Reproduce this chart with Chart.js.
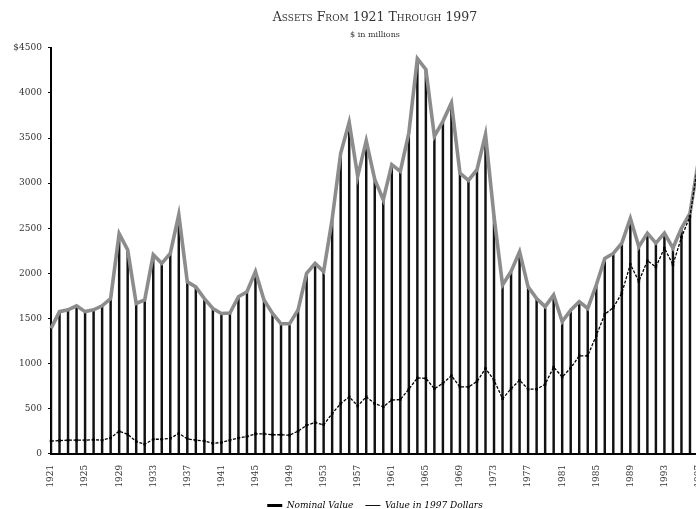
<!DOCTYPE html>
<html lang="en">
<head>
    <meta charset="UTF-8">
    <title>Assets From 1921 Through 1997</title>
    <style>
        body {
            margin: 0;
            background: white;
        }
        .frame {
            width: 696px;
            height: 509px;
            overflow: hidden;
        }
    </style>
</head>
<body>
    <div class="frame">
        <canvas id="assetsChart" width="750" height="520"></canvas>
    </div>

    <script src="https://cdn.jsdelivr.net/npm/chart.js"></script>
    <script>
        const years = [
            1921, 1922, 1923, 1924, 1925, 1926, 1927, 1928, 1929, 1930,
            1931, 1932, 1933, 1934, 1935, 1936, 1937, 1938, 1939, 1940,
            1941, 1942, 1943, 1944, 1945, 1946, 1947, 1948, 1949, 1950,
            1951, 1952, 1953, 1954, 1955, 1956, 1957, 1958, 1959, 1960,
            1961, 1962, 1963, 1964, 1965, 1966, 1967, 1968, 1969, 1970,
            1971, 1972, 1973, 1974, 1975, 1976, 1977, 1978, 1979, 1980,
            1981, 1982, 1983, 1984, 1985, 1986, 1987, 1988, 1989, 1990,
            1991, 1992, 1993, 1994, 1995, 1996, 1997
        ];

        // value in 1997 dollars ($ millions)
        const realValues = [
            1390, 1575, 1595, 1640, 1575, 1595, 1640, 1720, 2440, 2260,
            1665, 1705, 2205, 2110, 2220, 2650, 1905, 1850, 1720, 1610,
            1555, 1560, 1740, 1795, 2020, 1705, 1555, 1440, 1440, 1595,
            2000, 2110, 2020, 2600, 3330, 3675, 3075, 3470, 3040, 2815,
            3205, 3130, 3555, 4380, 4260, 3520, 3685, 3890, 3110, 3030,
            3150, 3540, 2630, 1870, 2020, 2240, 1850, 1720, 1630, 1760,
            1465, 1590, 1685, 1610, 1870, 2165, 2220, 2335, 2610, 2295,
            2445, 2335, 2445, 2280, 2500, 2665, 3250
        ];

        // nominal value ($ millions)
        const nominalValues = [
            140, 145, 150, 150, 150, 155, 150, 175, 250, 215,
            135, 105, 160, 160, 170, 225, 165, 150, 140, 115,
            125, 150, 175, 190, 220, 220, 210, 210, 205, 250,
            315, 345, 320, 445, 555, 630, 530, 630, 555, 520,
            595, 600, 715, 840, 835, 720, 780, 865, 740, 740,
            800, 945, 815, 610, 720, 815, 715, 715, 770, 960,
            850, 950, 1085, 1085, 1310, 1545, 1620, 1780, 2100, 1910,
            2140, 2070, 2280, 2095, 2400, 2630, 3250
        ];

        const yTickLabels = ['0', '500', '1000', '1500', '2000', '2500', '3000', '3500', '4000', '$4500'];
        const labelEvery = 4; // a year label every 4 years, starting 1921

        const serif = "'DejaVu Serif', 'Liberation Serif', serif";

        new Chart(document.getElementById('assetsChart'), {
            type: 'bar',
            data: {
                labels: years,
                datasets: [
                    {
                        type: 'line',
                        label: 'Value in 1997 Dollars',
                        data: realValues,
                        borderColor: '#8c8c8c',
                        borderWidth: 3.6,
                        pointRadius: 0,
                        tension: 0,
                        order: 2
                    },
                    {
                        type: 'line',
                        label: 'Nominal Value',
                        data: nominalValues,
                        borderColor: '#000',
                        borderWidth: 1.3,
                        borderDash: [3, 1.5],
                        pointStyle: 'rect',
                        pointRadius: 1.8,
                        pointBackgroundColor: '#000',
                        pointBorderWidth: 0,
                        tension: 0,
                        order: 1
                    },
                    {
                        label: 'bars',
                        data: realValues,
                        backgroundColor: '#111',
                        barThickness: 1.8,
                        order: 3
                    }
                ]
            },
            options: {
                responsive: false,
                animation: false,
                plugins: {
                    title: {
                        display: true,
                        text: 'Assets From 1921 Through 1997',
                        color: '#333',
                        font: { family: serif, size: 12.5, weight: 'small-caps' },
                        padding: { top: 10, bottom: 4 }
                    },
                    subtitle: {
                        display: true,
                        text: '$ in millions',
                        color: '#333',
                        font: { family: serif, size: 8 },
                        padding: { top: 1.5, bottom: 7.7 }
                    },
                    legend: {
                        position: 'bottom',
                        labels: {
                            usePointStyle: true,
                            pointStyleWidth: 15,
                            padding: 12,
                            color: '#222',
                            font: { family: serif, size: 9, style: 'italic' },
                            // the printed key: a heavy black stroke, then a thin one
                            generateLabels: function () {
                                return [
                                    { text: 'Nominal Value', pointStyle: 'line', strokeStyle: '#000', fillStyle: '#000', lineWidth: 3, hidden: false },
                                    { text: 'Value in 1997 Dollars', pointStyle: 'line', strokeStyle: '#111', fillStyle: '#111', lineWidth: 1, hidden: false }
                                ];
                            }
                        }
                    },
                    tooltip: { enabled: false }
                },
                scales: {
                    x: {
                        offset: false,
                        grid: { display: false, offset: false },
                        border: { display: true, color: '#000', width: 2 },
                        afterFit: function (scale) { scale.height = 35.3; },
                        ticks: {
                            autoSkip: false,
                            minRotation: 90,
                            maxRotation: 90,
                            padding: 3,
                            color: '#333',
                            font: { family: serif, size: 9 },
                            callback: function (value, index) {
                                return index % labelEvery === 0 ? String(years[index]) : '';
                            }
                        }
                    },
                    y: {
                        min: 0,
                        max: 4500,
                        afterFit: function (scale) { scale.width = 51; },
                        grid: { drawOnChartArea: false, drawTicks: true, tickLength: 3, color: '#000' },
                        border: { display: true, color: '#000', width: 2 },
                        ticks: {
                            stepSize: 500,
                            padding: 6,
                            color: '#333',
                            font: { family: serif, size: 9 },
                            callback: function (value, index) {
                                return yTickLabels[index];
                            }
                        }
                    },
                    // empty right-hand box, keeps the plot edge at 1997 and the titles centred
                    yRight: {
                        position: 'right',
                        display: true,
                        min: 0,
                        max: 4500,
                        afterFit: function (scale) { scale.width = 51.5; },
                        grid: { display: false },
                        border: { display: false },
                        ticks: { display: false }
                    }
                }
            }
        });
    </script>
</body>
</html>
